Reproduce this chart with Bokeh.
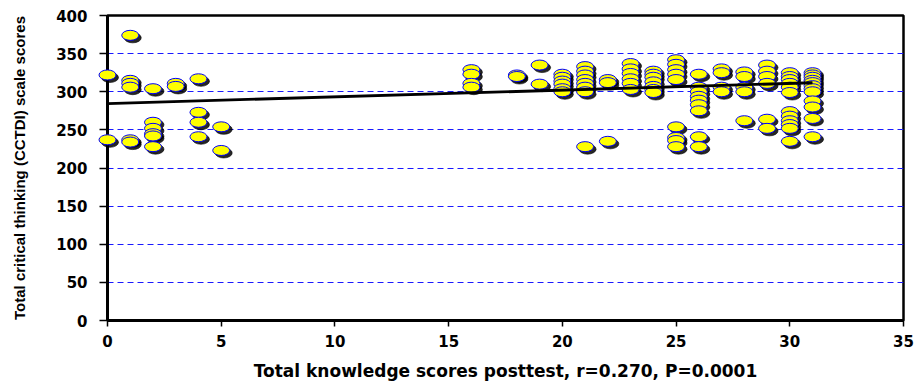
import numpy as np
from bokeh.plotting import figure
from bokeh.models import Range1d, FixedTicker, ColumnDataSource
from bokeh.transform import dodge
from bokeh.embed import file_html
from bokeh.resources import INLINE

# ---- data ----
knowledge_scores = (
    [0, 0]
    + [1] * 6
    + [2] * 6
    + [3] * 2
    + [4] * 4
    + [5] * 2
    + [16] * 4
    + [18] * 2
    + [19] * 2
    + [20] * 6
    + [21] * 8
    + [22] * 3
    + [23] * 6
    + [24] * 7
    + [25] * 9
    + [26] * 9
    + [27] * 4
    + [28] * 5
    + [29] * 6
    + [30] * 12
    + [31] * 12
)
cctdi_scores = [
    322, 237,
    374, 315, 311, 306, 237, 234,
    304, 260, 252, 245, 242, 228,
    311, 307,
    317, 273, 260, 241,
    254, 223,
    329, 323, 311, 306,
    322, 320,
    335, 310,
    323, 319, 314, 310, 304, 300,
    333, 327, 322, 316, 311, 306, 300, 228,
    316, 312, 235,
    337, 330, 324, 317, 311, 303,
    327, 323, 319, 313, 307, 303, 299,
    342, 336, 329, 323, 316, 254, 240, 236, 228,
    323, 306, 300, 294, 289, 283, 275, 241, 228,
    330, 325, 306, 300,
    326, 320, 306, 300, 262,
    335, 327, 320, 311, 264, 252,
    325, 320, 316, 311, 306, 299, 274, 268, 262, 257, 252, 235,
    325, 322, 319, 315, 312, 308, 304, 300, 288, 280, 265, 241,
]
fit_intercept = 284.5
fit_slope = 0.88
x_ticks = [0, 5, 10, 15, 20, 25, 30, 35]
y_ticks = [0, 50, 100, 150, 200, 250, 300, 350, 400]
x_title = "Total knowledge scores posttest, r=0.270, P=0.0001"
y_title = "Total critical thinking (CCTDI) scale scores"

src = ColumnDataSource(dict(x=knowledge_scores, y=cctdi_scores))

p = figure(width=919, height=383, output_backend="svg", toolbar_location=None,
           x_range=Range1d(0, 35), y_range=Range1d(0, 400),
           min_border_left=107, min_border_right=16, min_border_top=15, min_border_bottom=61)
p.background_fill_color = "white"
p.border_fill_color = "white"
p.outline_line_color = "black"
p.outline_line_width = 2.5

p.xgrid.visible = False
p.ygrid.grid_line_color = "#1a1aff"
p.ygrid.grid_line_dash = "6 4"
p.ygrid.grid_line_width = 1

for ax in (p.xaxis[0], p.yaxis[0]):
    ax.axis_line_color = "black"
    ax.axis_line_width = 3
    ax.major_tick_line_color = "black"
    ax.major_tick_line_width = 1.5
    ax.major_tick_in = 0
    ax.minor_tick_line_color = None
    ax.major_label_text_font = "DejaVu Sans"
    ax.major_label_text_font_style = "bold"
    ax.major_label_text_font_size = "15px"
    ax.major_label_text_color = "black"
    ax.axis_label_text_font_style = "bold"
    ax.axis_label_text_color = "black"

p.xaxis.ticker = FixedTicker(ticks=x_ticks)
p.yaxis.ticker = FixedTicker(ticks=y_ticks)
p.xaxis.major_tick_out = 6
p.yaxis.major_tick_out = 8
p.xaxis.major_label_standoff = 8
p.yaxis.major_label_standoff = 12
p.xaxis.axis_label = x_title
p.xaxis.axis_label_text_font = "DejaVu Sans"
p.xaxis.axis_label_text_font_size = "17px"
p.xaxis.axis_label_standoff = 11
p.yaxis.axis_label = y_title
p.yaxis.axis_label_text_font = "Liberation Sans"
p.yaxis.axis_label_text_font_size = "15px"
p.yaxis.axis_label_standoff = 25

# shadows
p.ellipse(x=dodge("x", 0.11), y=dodge("y", -3.3), width=17, height=10,
          width_units="screen", height_units="screen", source=src,
          fill_color="black", line_color="black", line_alpha=0.6, fill_alpha=0.85,
          level="overlay")
# points
p.ellipse(x="x", y="y", width=17, height=10, width_units="screen", height_units="screen",
          source=src, fill_color="#FFFF00", line_color="#0000FF", line_width=1,
          level="overlay")

# regression line
xl = np.array([min(knowledge_scores), max(knowledge_scores)], dtype=float)
p.line(xl, fit_intercept + fit_slope * xl, line_color="black", line_width=2.8, level="overlay")

open("out.html", "w").write(file_html(p, INLINE))
